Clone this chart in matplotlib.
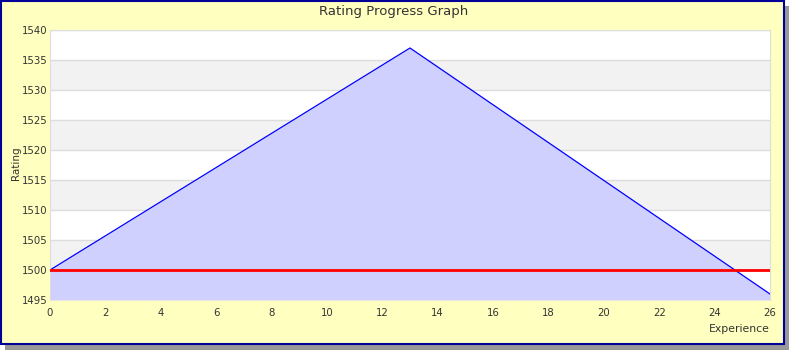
import matplotlib
matplotlib.use("Agg")
import matplotlib.pyplot as plt
from matplotlib.patches import Rectangle

# values
experience = [0, 13, 26]
rating = [1500, 1537, 1496]
start_rating = 1500
x_ticks = list(range(0, 27, 2))
y_ticks = list(range(1495, 1541, 5))

W, H = 790, 350
fig = plt.figure(figsize=(W / 100, H / 100), dpi=100)
fig.patch.set_facecolor("white")

# drop shadow + yellow panel with blue border
fig.patches.append(Rectangle((5 / W, 0), 784 / W, 344 / H, transform=fig.transFigure,
                             facecolor="#999999", edgecolor="none", zorder=0))
fig.patches.append(Rectangle((0.5 / W, 6.5 / H), 783 / W, 343 / H, transform=fig.transFigure,
                             facecolor="#FFFFC0", edgecolor="#000099", linewidth=1.5, zorder=1))

ax = fig.add_axes([50 / W, 50 / H, 720 / W, 270 / H])
ax.set_zorder(2)
ax.set_xlim(0, 26)
ax.set_ylim(1495, 1540)

# alternating horizontal bands
for i, lo in enumerate(y_ticks[:-1]):
    ax.axhspan(lo, lo + 5, color="#F2F2F2" if i % 2 == 1 else "white", lw=0, zorder=0)
for y in y_ticks:
    ax.axhline(y, color="#DDDDDD", lw=1, zorder=0.5)

ax.fill_between(experience, rating, 1495, color="#D0D0FF", lw=0, zorder=1)
ax.plot(experience, rating, color="#0000FF", lw=0.9, zorder=2)
ax.axhline(start_rating, color="#FF0000", lw=2, zorder=3)

ax.set_xticks(x_ticks)
ax.set_yticks(y_ticks)
ax.tick_params(length=0, labelsize=7.3, labelcolor="#333333")
ax.tick_params(axis="y", pad=2)
ax.tick_params(axis="x", pad=6)
for side in ["top", "left", "right"]:
    ax.spines[side].set_color("#DDDDDD")
ax.spines["bottom"].set_visible(False)

fig.text(394 / W, 1 - 11 / H, "Rating Progress Graph", ha="center", va="center",
         fontsize=9.5, color="#333333")
fig.text(16 / W, 1 - 163 / H, "Rating", rotation=90, ha="center", va="center",
         fontsize=7.5, color="#333333")
fig.text(770 / W, 1 - 329 / H, "Experience", ha="right", va="center",
         fontsize=7.8, color="#333333")

fig.savefig("out.png", dpi=100, facecolor=fig.get_facecolor())
